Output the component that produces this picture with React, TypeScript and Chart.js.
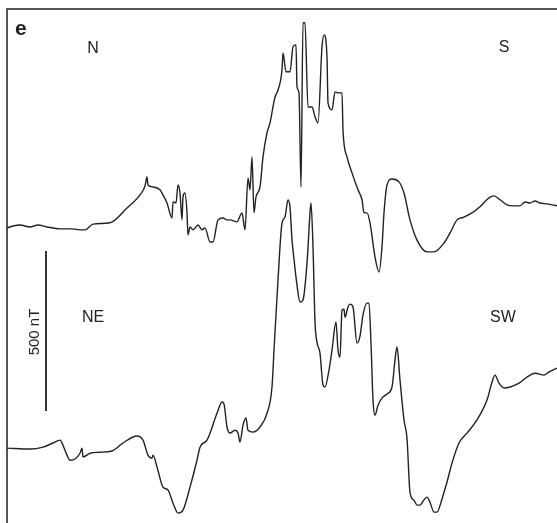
import React, { useEffect, useRef } from "react";
import { Chart, registerables } from "chart.js";

Chart.register(...registerables);

// Profile N–S (distance along profile, anomaly in nT relative to start level)
const nsDistance = [
  0, 6, 13, 23, 31, 40, 53, 65, 73, 78, 86, 103, 120, 133, 138, 140, 141, 146, 153, 156, 160, 165, 166,
  169, 171, 173, 175, 176, 178, 180, 181, 183, 186, 191, 195, 198, 203, 206, 211, 216, 220, 223, 230, 235,
  238, 241, 243, 245, 247, 249, 253, 256, 260, 263, 266, 268, 271, 275, 276, 279, 283, 286, 289, 290, 292,
  294, 296, 298, 301, 305, 308, 311, 315, 317, 320, 321, 325, 328, 331, 335, 336, 340, 345, 351, 355, 357,
  360, 363, 368, 372, 375, 377, 380, 385, 392, 397, 403, 410, 420, 427, 437, 443, 450, 457, 465, 473, 482,
  487, 493, 500, 507, 513, 518, 523, 528, 533, 540, 550,
];
const nsAnomaly = [
  0, 6, 9, 3, 9, 3, -3, -3, -6, -6, 12, 16, 62, 103, 131, 159, 134, 128, 119, 103, 78, 31, 81,
  78, 134, 109, 25, 97, 109, 47, -22, 3, -6, 9, -6, 0, -44, -44, 25, 31, 25, 25, 19, 47,
  -6, 156, 119, 222, 47, 97, 128, 222, 297, 328, 378, 409, 431, 494, 547, 488, 488, 566, 572, 441, 422,
  128, 641, 641, 378, 378, 347, 328, 566, 603, 534, 391, 369, 425, 422, 422, 306, 222, 172, 119, 88, 47,
  47, 16, -91, -138, -59, 47, 134, 153, 144, 109, 25, -38, -75, -75, -47, -16, 25, 34, 47, 66, 94,
  100, 88, 72, 69, 69, 81, 78, 84, 78, 75, 69,
];

// Profile NE–SW
const neswDistance = [
  0, 23, 36, 46, 53, 56, 60, 63, 68, 73, 75, 76, 83, 93, 105, 116, 130, 136, 141, 145, 146, 150, 156,
  161, 166, 171, 176, 183, 190, 193, 200, 210, 215, 217, 220, 223, 228, 231, 233, 236, 239, 241, 246, 253,
  260, 265, 267, 271, 275, 278, 281, 283, 285, 286, 290, 293, 296, 300, 303, 304, 306, 308, 310, 313, 316,
  318, 322, 325, 329, 331, 333, 335, 337, 338, 341, 343, 346, 350, 353, 356, 360, 362, 364, 366, 368, 371,
  375, 380, 385, 388, 390, 393, 397, 400, 403, 407, 410, 413, 416, 420, 423, 427, 430, 435, 440, 445, 452,
  460, 470, 480, 485, 488, 492, 497, 503, 512, 520, 528, 537, 542, 550,
];
const neswAnomaly = [
  0, -3, 3, 16, 25, 9, -22, -38, -34, -16, 0, -28, -16, -13, -9, 16, 38, 25, -22, -31, -22, -59, -122,
  -131, -172, -203, -194, -122, -38, 3, 25, 109, 144, 138, 66, 47, 56, 47, 19, 72, 94, 56, 50, 66,
  109, 191, 306, 525, 703, 722, 775, 753, 650, 619, 509, 456, 463, 578, 734, 766, 628, 394, 331, 297, 197,
  191, 244, 306, 394, 306, 284, 431, 434, 409, 441, 450, 441, 328, 350, 416, 453, 453, 328, 150, 103, 134,
  156, 169, 191, 275, 316, 213, 88, 31, -138, -163, -178, -178, -166, -153, -169, -200, -200, -159, -106, -47, 16,
  47, 88, 150, 206, 228, 203, 188, 191, 203, 222, 234, 228, 238, 250,
];

// Display offsets (nT) stacking the two profiles on a common vertical axis
const NS_OFFSET = 922;
const NESW_OFFSET = 234;
const Y_MIN = 0;
const Y_MAX = 1606;
const X_MIN = 0;
const X_MAX = 550;

// Scale bar
const BAR_DISTANCE = 39;
const BAR_BASE = 350;
const BAR_LENGTH = 500;
const BAR_LABEL = "500 nT";

const PANEL_LABEL = "e";
const DIRECTION_LABELS = ["N", "S", "NE", "SW"];

const INK = "#222";

const annotations = {
  id: "annotations",
  afterDatasetsDraw(chart: any) {
    const { ctx, scales } = chart;
    const xs = scales.x;
    const ys = scales.y;
    ctx.save();
    // scale bar
    const bx = xs.getPixelForValue(BAR_DISTANCE);
    ctx.strokeStyle = "#333";
    ctx.lineWidth = 2;
    ctx.beginPath();
    ctx.moveTo(bx, ys.getPixelForValue(BAR_BASE));
    ctx.lineTo(bx, ys.getPixelForValue(BAR_BASE + BAR_LENGTH));
    ctx.stroke();
    const midY = ys.getPixelForValue(BAR_BASE + BAR_LENGTH / 2);
    ctx.fillStyle = INK;
    ctx.font = "15px 'Liberation Sans', Arial, sans-serif";
    ctx.textAlign = "center";
    ctx.textBaseline = "middle";
    ctx.translate(bx - 11, midY + 1);
    ctx.rotate(-Math.PI / 2);
    ctx.fillText(BAR_LABEL, 0, 0);
    ctx.restore();

    ctx.save();
    ctx.fillStyle = INK;
    ctx.font = "bold 21px 'Liberation Sans', Arial, sans-serif";
    ctx.textAlign = "left";
    ctx.textBaseline = "alphabetic";
    ctx.fillText(PANEL_LABEL, 15, 35);
    ctx.font = "16px 'Liberation Sans', Arial, sans-serif";
    ctx.textAlign = "center";
    ctx.textBaseline = "middle";
    const pos = [
      [93, 49],
      [504, 48],
      [93, 318],
      [503, 318],
    ];
    DIRECTION_LABELS.forEach((t, i) => ctx.fillText(t, pos[i][0], pos[i][1]));
    ctx.restore();
  },
};

export default function App() {
  const ref = useRef<HTMLCanvasElement | null>(null);
  useEffect(() => {
    if (!ref.current) return;
    const chart = new Chart(ref.current, {
      type: "line",
      data: {
        datasets: [
          {
            label: "N-S",
            data: nsDistance.map((d, i) => ({ x: d, y: nsAnomaly[i] + NS_OFFSET })),
            borderColor: INK,
            borderWidth: 1.4,
            pointRadius: 0,
            cubicInterpolationMode: "monotone",
            fill: false,
          },
          {
            label: "NE-SW",
            data: neswDistance.map((d, i) => ({ x: d, y: neswAnomaly[i] + NESW_OFFSET })),
            borderColor: INK,
            borderWidth: 1.4,
            pointRadius: 0,
            cubicInterpolationMode: "monotone",
            fill: false,
          },
        ],
      },
      options: {
        animation: false,
        responsive: false,
        maintainAspectRatio: false,
        layout: { padding: { left: 7, top: 9, right: 0, bottom: 0 } },
        plugins: { legend: { display: false }, tooltip: { enabled: false } },
        scales: {
          x: {
            type: "linear",
            position: "top",
            min: X_MIN,
            max: X_MAX,
            ticks: { display: false },
            grid: { display: false, drawTicks: false },
            border: { display: true, color: "#555", width: 2 },
          },
          y: {
            type: "linear",
            position: "left",
            min: Y_MIN,
            max: Y_MAX,
            ticks: { display: false },
            grid: { display: false, drawTicks: false },
            border: { display: true, color: "#555", width: 2 },
          },
        },
      },
      plugins: [annotations],
    });
    return () => chart.destroy();
  }, []);
  return (
    <div style={{ position: "absolute", left: 0, top: 0, width: 557, height: 523, background: "#fff" }}>
      <canvas ref={ref} width={557} height={523} style={{ display: "block" }} />
    </div>
  );
}
